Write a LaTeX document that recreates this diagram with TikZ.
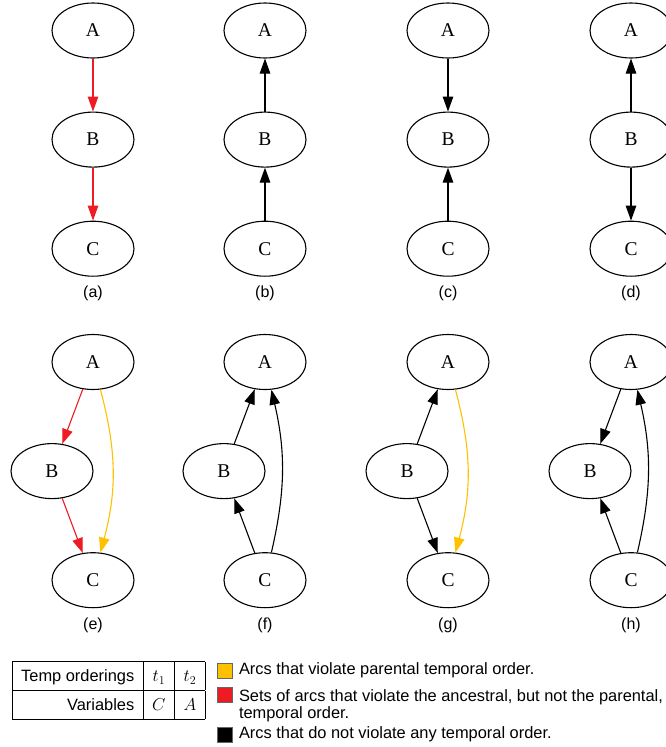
\documentclass[tikz,border=0pt]{standalone}
\usepackage{fontspec}
\setmainfont{Liberation Serif}
\setsansfont{Liberation Sans}
\usepackage{amsmath}
\usepackage{xcolor}
\usetikzlibrary{positioning,shapes.geometric,arrows.meta}
\definecolor{arcred}{HTML}{ED1C24}
\definecolor{arcyellow}{HTML}{FFC000}

\begin{document}
\begin{tikzpicture}[
    x=1pt, y=-1pt,
    node distance = 53pt,
    var/.style = {ellipse, draw, line width=1.1pt, minimum width=82pt, minimum height=55pt, inner sep=0pt, font=\fontsize{19.5}{22}\selectfont},
    lab/.style = {font=\sffamily\fontsize{16}{19}\selectfont, inner sep=0pt},
    arc/.style = {line width=1.1pt, -{Triangle[length=15pt, width=10.5pt]}},
    key/.style = {draw=black!60, line width=0.6pt, minimum size=15pt, inner sep=0pt},
    legtxt/.style = {font=\sffamily\fontsize{16.4}{17}\selectfont, inner sep=0pt, align=left}
]
\useasboundingbox (0,0) rectangle (665,747);

\node[var] (Aa) at (93,30.5) {A};
\node[var, below=of Aa] (Ba) {B};
\node[var, below=of Ba] (Ca) {C};
\node[lab, below=9pt of Ca] (capa) {(a)};

\node[var] (Ab) at (265,30.5) {A};
\node[var, below=of Ab] (Bb) {B};
\node[var, below=of Bb] (Cb) {C};
\node[lab, below=9pt of Cb] (capb) {(b)};

\node[var] (Ac) at (448,30.5) {A};
\node[var, below=of Ac] (Bc) {B};
\node[var, below=of Bc] (Cc) {C};
\node[lab, below=9pt of Cc] (capc) {(c)};

\node[var] (Ad) at (631,30.5) {A};
\node[var, below=of Ad] (Bd) {B};
\node[var, below=of Bd] (Cd) {C};
\node[lab, below=9pt of Cd] (capd) {(d)};

\node[var] (Ae) at (93,362) {A};
\node[var, below=of Ae, xshift=-41pt] (Be) {B};
\node[var, below=of Be, xshift=41pt] (Ce) {C};
\node[lab, below=9pt of Ce] (cape) {(e)};

\node[var] (Af) at (265,362) {A};
\node[var, below=of Af, xshift=-41pt] (Bf) {B};
\node[var, below=of Bf, xshift=41pt] (Cf) {C};
\node[lab, below=9pt of Cf] (capf) {(f)};

\node[var] (Ag) at (448,362) {A};
\node[var, below=of Ag, xshift=-41pt] (Bg) {B};
\node[var, below=of Bg, xshift=41pt] (Cg) {C};
\node[lab, below=9pt of Cg] (capg) {(g)};

\node[var] (Ah) at (631,362) {A};
\node[var, below=of Ah, xshift=-41pt] (Bh) {B};
\node[var, below=of Bh, xshift=41pt] (Ch) {C};
\node[lab, below=9pt of Ch] (caph) {(h)};

\draw[arc, arcred] (Aa) -- (Ba);
\draw[arc, arcred] (Ba) -- (Ca);

\draw[arc] (Bb) -- (Ab);
\draw[arc] (Cb) -- (Bb);

\draw[arc] (Ac) -- (Bc);
\draw[arc] (Cc) -- (Bc);

\draw[arc] (Bd) -- (Ad);
\draw[arc] (Bd) -- (Cd);

\draw[arc, arcred] (Ae) -- (Be);
\draw[arc, arcred] (Be) -- (Ce);
\draw[arc, arcyellow] (Ae) to[bend left=15] (Ce);

\draw[arc] (Bf) -- (Af);
\draw[arc] (Cf) -- (Bf);
\draw[arc] (Cf) to[bend right=13] (Af);

\draw[arc] (Bg) -- (Ag);
\draw[arc] (Bg) -- (Cg);
\draw[arc, arcyellow] (Ag) to[bend left=15] (Cg);

\draw[arc] (Ah) -- (Bh);
\draw[arc] (Ch) -- (Bh);
\draw[arc] (Ch) to[bend right=13] (Ah);

\node[anchor=north west, inner sep=0pt, font=\sffamily\fontsize{16.4}{19}\selectfont] (tbl) at (12,661) {%
  \setlength{\tabcolsep}{9pt}\setlength{\arrayrulewidth}{0.8pt}\renewcommand{\arraystretch}{1.47}%
  \begin{tabular}{|r|c|c|}
    \hline
    Temp orderings & $t_1$ & $t_2$ \\ \hline
    Variables & $C$ & $A$ \\ \hline
  \end{tabular}};

\node[key, fill=arcyellow] (keyY) at (225,670.5) {};
\node[legtxt, right=6pt of keyY] (txtY) {Arcs that violate parental temporal order.};
\node[key, fill=arcred] (keyR) at (225,694.5) {};
\node[legtxt, right=6pt of keyR.north east, anchor=north west, yshift=-3pt] (txtR) {Sets of arcs that violate the ancestral, but not the parental,\\temporal order.};
\node[key, fill=black] (keyK) at (225,734.5) {};
\node[legtxt, right=6pt of keyK] (txtK) {Arcs that do not violate any temporal order.};

\end{tikzpicture}
\end{document}
